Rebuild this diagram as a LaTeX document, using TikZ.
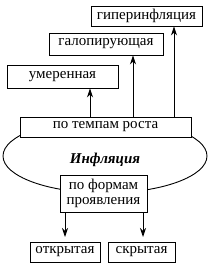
\documentclass[tikz,border=0pt]{standalone}
\usepackage{fontspec}
\setmainfont{Liberation Serif}
\usetikzlibrary{arrows.meta}
\begin{document}
\begin{tikzpicture}[x=1pt,y=-1pt,
  box/.style={draw, line width=0.9pt, fill=white, inner sep=0pt, align=center,
    font=\fontsize{15}{15}\selectfont},
  arr/.style={-{Stealth[length=9pt,width=6pt]}, line width=0.9pt}]
\useasboundingbox (0,0) rectangle (209,265);
\draw[line width=0.9pt] (105,156) ellipse [x radius=102, y radius=37];
\node[box, minimum width=111pt, minimum height=20pt] (hyp) at (146.5,16) {гиперинфляция};
\node[box, minimum width=114pt, minimum height=22pt] (gal) at (106,44) {галопирующая};
\node[box, minimum width=111pt, minimum height=23pt] (umr) at (62.5,76.5) {умеренная};
\node[box, minimum width=171pt, minimum height=20pt] (tmp) at (105.5,127) {по темпам роста};
\node[font=\fontsize{15}{15}\selectfont\bfseries\itshape] (inf) at (105,160) {Инфляция};
\node[box, minimum width=87pt, minimum height=37pt, font=\fontsize{15}{15.5}\selectfont] (frm) at (103.5,193.5) {по формам\\проявления};
\node[box, minimum width=70pt, minimum height=20pt] (otk) at (65,252) {открытая};
\node[box, minimum width=67pt, minimum height=20pt] (skr) at (141.5,252) {скрытая};
\coordinate (c1) at (90,0);
\coordinate (c2) at (133,0);
\coordinate (c3) at (174,0);
\coordinate (d1) at (65,0);
\coordinate (d2) at (143,0);
\coordinate (e) at (0,237);
\draw[arr] (tmp.north -| c1) -- (umr.south -| c1);
\draw[arr] (tmp.north -| c2) -- (gal.south -| c2);
\draw[arr] (tmp.north -| c3) -- (hyp.south -| c3);
\draw[arr] (frm.south -| d1) -- (e -| d1);
\draw[arr] (frm.south -| d2) -- (e -| d2);
\end{tikzpicture}
\end{document}
